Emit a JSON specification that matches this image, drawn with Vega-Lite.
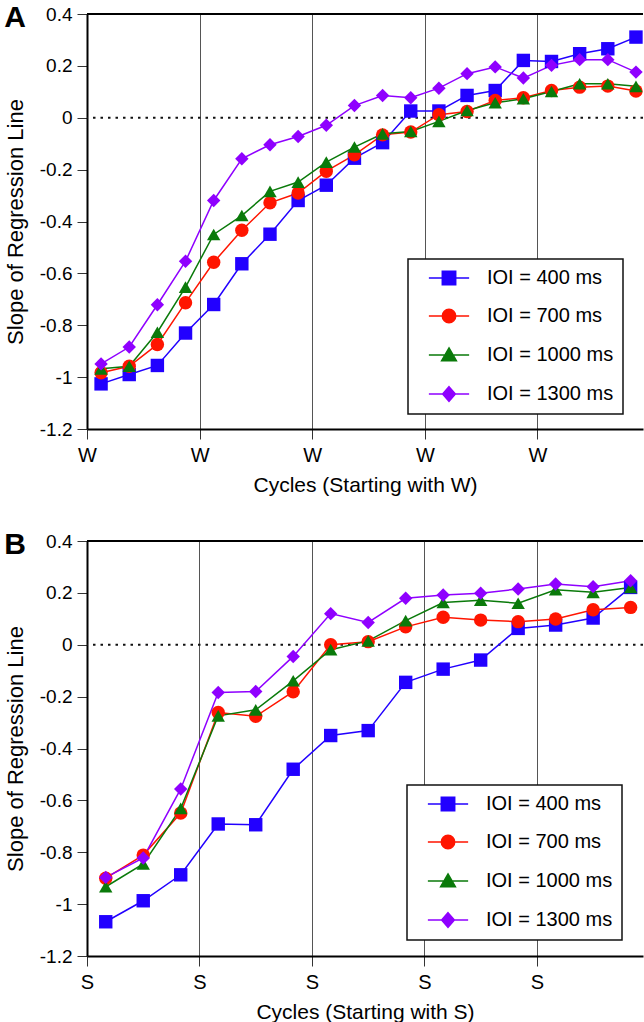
{
  "$schema": "https://vega.github.io/schema/vega-lite/v6.json",
  "padding": {"left": 4, "top": 3, "right": 0, "bottom": 0},
  "spacing": 35,
  "background": "white",
  "resolve": {"scale": {"color": "independent", "shape": "independent", "stroke": "independent"}, "legend": {"color": "independent", "shape": "independent", "stroke": "independent"}},
  "config": {
    "font": "Liberation Sans",
    "view": {"stroke": null},
    "axis": {
      "labelFont": "Liberation Sans", "labelFontSize": 19, "labelColor": "black",
      "titleFont": "Liberation Sans", "titleFontWeight": "normal", "titleColor": "black",
      "domainColor": "black", "domainWidth": 2,
      "tickColor": "#333", "tickWidth": 1, "tickSize": 10
    },
    "legend": {"strokeWidth": 1.5}
  },
  "datasets": {
    "A": [
      {"series": "IOI = 400 ms", "i": 0, "slope": -1.026}, {"series": "IOI = 400 ms", "i": 1, "slope": -0.99}, {"series": "IOI = 400 ms", "i": 2, "slope": -0.955}, {"series": "IOI = 400 ms", "i": 3, "slope": -0.83}, {"series": "IOI = 400 ms", "i": 4, "slope": -0.72}, {"series": "IOI = 400 ms", "i": 5, "slope": -0.563}, {"series": "IOI = 400 ms", "i": 6, "slope": -0.449}, {"series": "IOI = 400 ms", "i": 7, "slope": -0.319}, {"series": "IOI = 400 ms", "i": 8, "slope": -0.26}, {"series": "IOI = 400 ms", "i": 9, "slope": -0.156}, {"series": "IOI = 400 ms", "i": 10, "slope": -0.096}, {"series": "IOI = 400 ms", "i": 11, "slope": 0.026}, {"series": "IOI = 400 ms", "i": 12, "slope": 0.026}, {"series": "IOI = 400 ms", "i": 13, "slope": 0.086}, {"series": "IOI = 400 ms", "i": 14, "slope": 0.105}, {"series": "IOI = 400 ms", "i": 15, "slope": 0.221}, {"series": "IOI = 400 ms", "i": 16, "slope": 0.217}, {"series": "IOI = 400 ms", "i": 17, "slope": 0.247}, {"series": "IOI = 400 ms", "i": 18, "slope": 0.266}, {"series": "IOI = 400 ms", "i": 19, "slope": 0.311},
      {"series": "IOI = 700 ms", "i": 0, "slope": -0.983}, {"series": "IOI = 700 ms", "i": 1, "slope": -0.958}, {"series": "IOI = 700 ms", "i": 2, "slope": -0.874}, {"series": "IOI = 700 ms", "i": 3, "slope": -0.713}, {"series": "IOI = 700 ms", "i": 4, "slope": -0.557}, {"series": "IOI = 700 ms", "i": 5, "slope": -0.434}, {"series": "IOI = 700 ms", "i": 6, "slope": -0.328}, {"series": "IOI = 700 ms", "i": 7, "slope": -0.29}, {"series": "IOI = 700 ms", "i": 8, "slope": -0.206}, {"series": "IOI = 700 ms", "i": 9, "slope": -0.143}, {"series": "IOI = 700 ms", "i": 10, "slope": -0.066}, {"series": "IOI = 700 ms", "i": 11, "slope": -0.055}, {"series": "IOI = 700 ms", "i": 12, "slope": 0.012}, {"series": "IOI = 700 ms", "i": 13, "slope": 0.024}, {"series": "IOI = 700 ms", "i": 14, "slope": 0.067}, {"series": "IOI = 700 ms", "i": 15, "slope": 0.077}, {"series": "IOI = 700 ms", "i": 16, "slope": 0.105}, {"series": "IOI = 700 ms", "i": 17, "slope": 0.118}, {"series": "IOI = 700 ms", "i": 18, "slope": 0.122}, {"series": "IOI = 700 ms", "i": 19, "slope": 0.103},
      {"series": "IOI = 1000 ms", "i": 0, "slope": -0.968}, {"series": "IOI = 1000 ms", "i": 1, "slope": -0.958}, {"series": "IOI = 1000 ms", "i": 2, "slope": -0.827}, {"series": "IOI = 1000 ms", "i": 3, "slope": -0.653}, {"series": "IOI = 1000 ms", "i": 4, "slope": -0.45}, {"series": "IOI = 1000 ms", "i": 5, "slope": -0.377}, {"series": "IOI = 1000 ms", "i": 6, "slope": -0.284}, {"series": "IOI = 1000 ms", "i": 7, "slope": -0.248}, {"series": "IOI = 1000 ms", "i": 8, "slope": -0.171}, {"series": "IOI = 1000 ms", "i": 9, "slope": -0.113}, {"series": "IOI = 1000 ms", "i": 10, "slope": -0.062}, {"series": "IOI = 1000 ms", "i": 11, "slope": -0.053}, {"series": "IOI = 1000 ms", "i": 12, "slope": -0.014}, {"series": "IOI = 1000 ms", "i": 13, "slope": 0.028}, {"series": "IOI = 1000 ms", "i": 14, "slope": 0.058}, {"series": "IOI = 1000 ms", "i": 15, "slope": 0.073}, {"series": "IOI = 1000 ms", "i": 16, "slope": 0.101}, {"series": "IOI = 1000 ms", "i": 17, "slope": 0.131}, {"series": "IOI = 1000 ms", "i": 18, "slope": 0.131}, {"series": "IOI = 1000 ms", "i": 19, "slope": 0.121},
      {"series": "IOI = 1300 ms", "i": 0, "slope": -0.949}, {"series": "IOI = 1300 ms", "i": 1, "slope": -0.884}, {"series": "IOI = 1300 ms", "i": 2, "slope": -0.721}, {"series": "IOI = 1300 ms", "i": 3, "slope": -0.553}, {"series": "IOI = 1300 ms", "i": 4, "slope": -0.319}, {"series": "IOI = 1300 ms", "i": 5, "slope": -0.158}, {"series": "IOI = 1300 ms", "i": 6, "slope": -0.104}, {"series": "IOI = 1300 ms", "i": 7, "slope": -0.072}, {"series": "IOI = 1300 ms", "i": 8, "slope": -0.029}, {"series": "IOI = 1300 ms", "i": 9, "slope": 0.047}, {"series": "IOI = 1300 ms", "i": 10, "slope": 0.086}, {"series": "IOI = 1300 ms", "i": 11, "slope": 0.077}, {"series": "IOI = 1300 ms", "i": 12, "slope": 0.114}, {"series": "IOI = 1300 ms", "i": 13, "slope": 0.17}, {"series": "IOI = 1300 ms", "i": 14, "slope": 0.196}, {"series": "IOI = 1300 ms", "i": 15, "slope": 0.153}, {"series": "IOI = 1300 ms", "i": 16, "slope": 0.202}, {"series": "IOI = 1300 ms", "i": 17, "slope": 0.224}, {"series": "IOI = 1300 ms", "i": 18, "slope": 0.224}, {"series": "IOI = 1300 ms", "i": 19, "slope": 0.176}
    ],
    "B": [
      {"series": "IOI = 400 ms", "i": 0, "slope": -1.068}, {"series": "IOI = 400 ms", "i": 1, "slope": -0.987}, {"series": "IOI = 400 ms", "i": 2, "slope": -0.887}, {"series": "IOI = 400 ms", "i": 3, "slope": -0.691}, {"series": "IOI = 400 ms", "i": 4, "slope": -0.694}, {"series": "IOI = 400 ms", "i": 5, "slope": -0.48}, {"series": "IOI = 400 ms", "i": 6, "slope": -0.35}, {"series": "IOI = 400 ms", "i": 7, "slope": -0.331}, {"series": "IOI = 400 ms", "i": 8, "slope": -0.145}, {"series": "IOI = 400 ms", "i": 9, "slope": -0.094}, {"series": "IOI = 400 ms", "i": 10, "slope": -0.059}, {"series": "IOI = 400 ms", "i": 11, "slope": 0.063}, {"series": "IOI = 400 ms", "i": 12, "slope": 0.076}, {"series": "IOI = 400 ms", "i": 13, "slope": 0.103}, {"series": "IOI = 400 ms", "i": 14, "slope": 0.221},
      {"series": "IOI = 700 ms", "i": 0, "slope": -0.9}, {"series": "IOI = 700 ms", "i": 1, "slope": -0.811}, {"series": "IOI = 700 ms", "i": 2, "slope": -0.649}, {"series": "IOI = 700 ms", "i": 3, "slope": -0.261}, {"series": "IOI = 700 ms", "i": 4, "slope": -0.276}, {"series": "IOI = 700 ms", "i": 5, "slope": -0.181}, {"series": "IOI = 700 ms", "i": 6, "slope": 0.0}, {"series": "IOI = 700 ms", "i": 7, "slope": 0.012}, {"series": "IOI = 700 ms", "i": 8, "slope": 0.069}, {"series": "IOI = 700 ms", "i": 9, "slope": 0.106}, {"series": "IOI = 700 ms", "i": 10, "slope": 0.095}, {"series": "IOI = 700 ms", "i": 11, "slope": 0.089}, {"series": "IOI = 700 ms", "i": 12, "slope": 0.099}, {"series": "IOI = 700 ms", "i": 13, "slope": 0.135}, {"series": "IOI = 700 ms", "i": 14, "slope": 0.144},
      {"series": "IOI = 1000 ms", "i": 0, "slope": -0.933}, {"series": "IOI = 1000 ms", "i": 1, "slope": -0.845}, {"series": "IOI = 1000 ms", "i": 2, "slope": -0.631}, {"series": "IOI = 1000 ms", "i": 3, "slope": -0.274}, {"series": "IOI = 1000 ms", "i": 4, "slope": -0.251}, {"series": "IOI = 1000 ms", "i": 5, "slope": -0.139}, {"series": "IOI = 1000 ms", "i": 6, "slope": -0.019}, {"series": "IOI = 1000 ms", "i": 7, "slope": 0.015}, {"series": "IOI = 1000 ms", "i": 8, "slope": 0.093}, {"series": "IOI = 1000 ms", "i": 9, "slope": 0.163}, {"series": "IOI = 1000 ms", "i": 10, "slope": 0.172}, {"series": "IOI = 1000 ms", "i": 11, "slope": 0.16}, {"series": "IOI = 1000 ms", "i": 12, "slope": 0.212}, {"series": "IOI = 1000 ms", "i": 13, "slope": 0.202}, {"series": "IOI = 1000 ms", "i": 14, "slope": 0.221},
      {"series": "IOI = 1300 ms", "i": 0, "slope": -0.897}, {"series": "IOI = 1300 ms", "i": 1, "slope": -0.822}, {"series": "IOI = 1300 ms", "i": 2, "slope": -0.556}, {"series": "IOI = 1300 ms", "i": 3, "slope": -0.184}, {"series": "IOI = 1300 ms", "i": 4, "slope": -0.18}, {"series": "IOI = 1300 ms", "i": 5, "slope": -0.045}, {"series": "IOI = 1300 ms", "i": 6, "slope": 0.12}, {"series": "IOI = 1300 ms", "i": 7, "slope": 0.086}, {"series": "IOI = 1300 ms", "i": 8, "slope": 0.179}, {"series": "IOI = 1300 ms", "i": 9, "slope": 0.192}, {"series": "IOI = 1300 ms", "i": 10, "slope": 0.199}, {"series": "IOI = 1300 ms", "i": 11, "slope": 0.215}, {"series": "IOI = 1300 ms", "i": 12, "slope": 0.234}, {"series": "IOI = 1300 ms", "i": 13, "slope": 0.224}, {"series": "IOI = 1300 ms", "i": 14, "slope": 0.247}
    ]
  },
  "vconcat": [
    {
      "width": 556, "height": 415,
      "title": {"text": "A", "anchor": "start", "frame": "bounds", "fontSize": 30, "fontWeight": "bold", "font": "Liberation Sans", "color": "black", "offset": -28},
      "data": {"name": "A"},
      "layer": [
        {
          "data": {"values": [{}]},
          "mark": {"type": "rule", "color": "black", "strokeWidth": 2},
          "encoding": {"y": {"datum": 0.4, "type": "quantitative"}}
        },
        {
          "data": {"values": [{}]},
          "mark": {"type": "rule", "color": "#111", "strokeWidth": 2, "strokeDash": [2.5, 5]},
          "encoding": {"y": {"datum": 0, "type": "quantitative"}}
        },
        {
          "mark": {"type": "line", "strokeWidth": 1.5},
          "encoding": {
            "x": {"field": "i", "type": "quantitative", "scale": {"domain": [-0.5, 19.25], "nice": false, "zero": false},
              "axis": {"values": [-0.5, 3.5, 7.5, 11.5, 15.5], "labelExpr": "'W'", "labelDx": 14, "labelFlush": false, "labelOverlap": false, "grid": true, "gridColor": "#555", "gridWidth": 1, "title": "Cycles (Starting with W)", "titleFontSize": 21, "labelFontSize": 20, "labelPadding": 6, "titlePadding": 9}},
            "y": {"field": "slope", "type": "quantitative", "scale": {"domain": [-1.2, 0.4], "nice": false, "zero": false},
              "axis": {"values": [-1.2, -1, -0.8, -0.6, -0.4, -0.2, 0, 0.2, 0.4], "labelExpr": "replace(format(datum.value, '~g'), '\u2212', '-')", "grid": false, "title": "Slope of Regression Line", "titleFontSize": 22, "labelPadding": 5, "titlePadding": 12}},
            "color": {"field": "series", "type": "nominal", "scale": {"domain": ["IOI = 400 ms", "IOI = 700 ms", "IOI = 1000 ms", "IOI = 1300 ms"], "range": ["#2200ff", "#ff1500", "#0a7a0a", "#8f00ff"]},
              "legend": {"orient": "none", "legendX": 321, "legendY": 245, "title": null, "labelExpr": "datum.label + '\u00a0\u00a0\u00a0\u00a0'"}},
            "detail": {"field": "series"}
          }
        },
        {
          "transform": [{"filter": "datum.series === 'IOI = 400 ms'"}],
          "mark": {"type": "point", "shape": "square", "filled": true, "opacity": 1, "size": 180},
          "encoding": {"x": {"field": "i", "type": "quantitative"}, "y": {"field": "slope", "type": "quantitative"}, "color": {"field": "series", "type": "nominal"}}
        },
        {
          "transform": [{"filter": "datum.series === 'IOI = 700 ms'"}],
          "mark": {"type": "point", "shape": "circle", "filled": true, "opacity": 1, "size": 180},
          "encoding": {"x": {"field": "i", "type": "quantitative"}, "y": {"field": "slope", "type": "quantitative"}, "color": {"field": "series", "type": "nominal"}}
        },
        {
          "transform": [{"filter": "datum.series === 'IOI = 1000 ms'"}],
          "mark": {"type": "point", "shape": "triangle-up", "filled": true, "opacity": 1, "size": 180},
          "encoding": {"x": {"field": "i", "type": "quantitative"}, "y": {"field": "slope", "type": "quantitative"}, "color": {"field": "series", "type": "nominal"}}
        },
        {
          "transform": [{"filter": "datum.series === 'IOI = 1300 ms'"}],
          "mark": {"type": "point", "shape": "diamond", "filled": true, "opacity": 1, "size": 180},
          "encoding": {"x": {"field": "i", "type": "quantitative"}, "y": {"field": "slope", "type": "quantitative"}, "color": {"field": "series", "type": "nominal"}}
        },
        {
          "transform": [{"filter": "false"}],
          "mark": {"type": "point", "filled": true, "opacity": 1, "size": 180},
          "encoding": {
            "x": {"field": "i", "type": "quantitative"},
            "y": {"field": "slope", "type": "quantitative"},
            "color": {"field": "series", "type": "nominal"},
            "stroke": {"field": "series", "type": "nominal", "scale": {"domain": ["IOI = 400 ms", "IOI = 700 ms", "IOI = 1000 ms", "IOI = 1300 ms"], "range": ["#2200ff", "#ff1500", "#0a7a0a", "#8f00ff"]}},
            "shape": {"field": "series", "type": "nominal",
              "scale": {"domain": ["IOI = 400 ms", "IOI = 700 ms", "IOI = 1000 ms", "IOI = 1300 ms"], "range": ["M-3,0H3M-1,-1H1V1H-1Z", "M-3,0H3M-1,0A1,1,0,1,0,1,0A1,1,0,1,0,-1,0Z", "M-3,0H3M0,-1.05L1.1,0.85H-1.1Z", "M-3,0H3M0,-1.1L0.95,0L0,1.1L-0.95,0Z"]},
              "legend": {"orient": "none", "legendX": 321, "legendY": 245, "title": null, "padding": 9, "fillColor": "white", "strokeColor": "#111",
                "labelFont": "Liberation Sans", "labelFontSize": 20, "labelColor": "black", "labelExpr": "datum.label + '\u00a0\u00a0\u00a0\u00a0'", "labelLimit": 300,
                "symbolSize": 180, "symbolStrokeWidth": 1.5, "symbolOffset": 22, "labelOffset": 28, "rowPadding": 18}}
          }
        }
      ]
    },
    {
      "width": 556, "height": 415,
      "title": {"text": "B", "anchor": "start", "frame": "bounds", "fontSize": 30, "fontWeight": "bold", "font": "Liberation Sans", "color": "black", "offset": -28},
      "data": {"name": "B"},
      "layer": [
        {
          "data": {"values": [{}]},
          "mark": {"type": "rule", "color": "black", "strokeWidth": 2},
          "encoding": {"y": {"datum": 0.4, "type": "quantitative"}}
        },
        {
          "data": {"values": [{}]},
          "mark": {"type": "rule", "color": "#111", "strokeWidth": 2, "strokeDash": [2.5, 5]},
          "encoding": {"y": {"datum": 0, "type": "quantitative"}}
        },
        {
          "mark": {"type": "line", "strokeWidth": 1.5},
          "encoding": {
            "x": {"field": "i", "type": "quantitative", "scale": {"domain": [-0.5, 14.33], "nice": false, "zero": false},
              "axis": {"values": [-0.5, 2.5, 5.5, 8.5, 11.5], "labelExpr": "'S'", "labelDx": 17, "labelFlush": false, "labelOverlap": false, "grid": true, "gridColor": "#555", "gridWidth": 1, "title": "Cycles (Starting with S)", "titleFontSize": 21, "labelFontSize": 20, "labelPadding": 6, "titlePadding": 9}},
            "y": {"field": "slope", "type": "quantitative", "scale": {"domain": [-1.2, 0.4], "nice": false, "zero": false},
              "axis": {"values": [-1.2, -1, -0.8, -0.6, -0.4, -0.2, 0, 0.2, 0.4], "labelExpr": "replace(format(datum.value, '~g'), '\u2212', '-')", "grid": false, "title": "Slope of Regression Line", "titleFontSize": 22, "labelPadding": 5, "titlePadding": 12}},
            "color": {"field": "series", "type": "nominal", "scale": {"domain": ["IOI = 400 ms", "IOI = 700 ms", "IOI = 1000 ms", "IOI = 1300 ms"], "range": ["#2200ff", "#ff1500", "#0a7a0a", "#8f00ff"]},
              "legend": {"orient": "none", "legendX": 320, "legendY": 244, "title": null, "labelExpr": "datum.label + '\u00a0\u00a0\u00a0\u00a0'"}},
            "detail": {"field": "series"}
          }
        },
        {
          "transform": [{"filter": "datum.series === 'IOI = 400 ms'"}],
          "mark": {"type": "point", "shape": "square", "filled": true, "opacity": 1, "size": 180},
          "encoding": {"x": {"field": "i", "type": "quantitative"}, "y": {"field": "slope", "type": "quantitative"}, "color": {"field": "series", "type": "nominal"}}
        },
        {
          "transform": [{"filter": "datum.series === 'IOI = 700 ms'"}],
          "mark": {"type": "point", "shape": "circle", "filled": true, "opacity": 1, "size": 180},
          "encoding": {"x": {"field": "i", "type": "quantitative"}, "y": {"field": "slope", "type": "quantitative"}, "color": {"field": "series", "type": "nominal"}}
        },
        {
          "transform": [{"filter": "datum.series === 'IOI = 1000 ms'"}],
          "mark": {"type": "point", "shape": "triangle-up", "filled": true, "opacity": 1, "size": 180},
          "encoding": {"x": {"field": "i", "type": "quantitative"}, "y": {"field": "slope", "type": "quantitative"}, "color": {"field": "series", "type": "nominal"}}
        },
        {
          "transform": [{"filter": "datum.series === 'IOI = 1300 ms'"}],
          "mark": {"type": "point", "shape": "diamond", "filled": true, "opacity": 1, "size": 180},
          "encoding": {"x": {"field": "i", "type": "quantitative"}, "y": {"field": "slope", "type": "quantitative"}, "color": {"field": "series", "type": "nominal"}}
        },
        {
          "transform": [{"filter": "false"}],
          "mark": {"type": "point", "filled": true, "opacity": 1, "size": 180},
          "encoding": {
            "x": {"field": "i", "type": "quantitative"},
            "y": {"field": "slope", "type": "quantitative"},
            "color": {"field": "series", "type": "nominal"},
            "stroke": {"field": "series", "type": "nominal", "scale": {"domain": ["IOI = 400 ms", "IOI = 700 ms", "IOI = 1000 ms", "IOI = 1300 ms"], "range": ["#2200ff", "#ff1500", "#0a7a0a", "#8f00ff"]}},
            "shape": {"field": "series", "type": "nominal",
              "scale": {"domain": ["IOI = 400 ms", "IOI = 700 ms", "IOI = 1000 ms", "IOI = 1300 ms"], "range": ["M-3,0H3M-1,-1H1V1H-1Z", "M-3,0H3M-1,0A1,1,0,1,0,1,0A1,1,0,1,0,-1,0Z", "M-3,0H3M0,-1.05L1.1,0.85H-1.1Z", "M-3,0H3M0,-1.1L0.95,0L0,1.1L-0.95,0Z"]},
              "legend": {"orient": "none", "legendX": 320, "legendY": 244, "title": null, "padding": 9, "fillColor": "white", "strokeColor": "#111",
                "labelFont": "Liberation Sans", "labelFontSize": 20, "labelColor": "black", "labelExpr": "datum.label + '\u00a0\u00a0\u00a0\u00a0'", "labelLimit": 300,
                "symbolSize": 180, "symbolStrokeWidth": 1.5, "symbolOffset": 22, "labelOffset": 28, "rowPadding": 18}}
          }
        }
      ]
    }
  ]
}
